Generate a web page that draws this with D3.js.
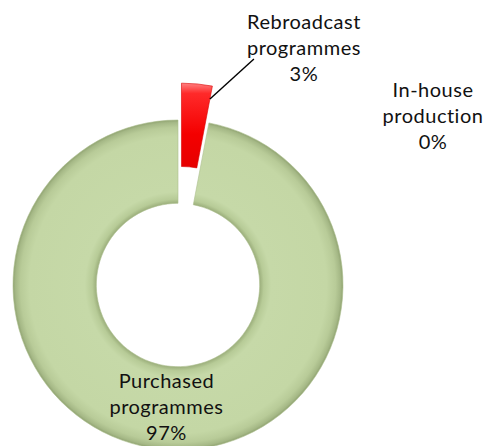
<!DOCTYPE html>
<html>
<head>
<meta charset="utf-8">
<script src="https://cdnjs.cloudflare.com/ajax/libs/d3/7.8.5/d3.min.js"></script>
<style>
  html, body { margin: 0; padding: 0; background: #fff; }
  #chart text { font-family: Lato, 'Open Sans', sans-serif; font-size: 20px; fill: #111; letter-spacing: 0.5px; }
</style>
</head>
<body>
<div id="chart"></div>
<script>
/*** chart data */
var categories = ['In-house production', 'Rebroadcast programmes', 'Purchased programmes'];
var labelLines = [['In-house', 'production'], ['Rebroadcast', 'programmes'], ['Purchased', 'programmes']];
var shares = [0, 3, 97];

/*** to define the style */
var template = {
  width: 486,
  height: 446,
  cx: 178,
  cy: 285,
  outer: 165,
  hole: 0.495,
  explode: 37,
  lineHeight: 26
};

(function(data) {
  var $graph = d3
    .select('#chart')
    .append('svg')
    .attr('width', data.width)
    .attr('height', data.height);

  var defs = $graph.append('defs');

  // ring shading: darker rims, light middle band (gradient lives in the g's space)
  var green = defs
    .append('radialGradient')
    .attr('id', 'greenFill')
    .attr('gradientUnits', 'userSpaceOnUse')
    .attr('cx', 0)
    .attr('cy', 0)
    .attr('r', data.outer);
  [
    [data.hole, '#9bae7b'],
    [data.hole + 0.025, '#b7cb97'],
    [data.hole + 0.07, '#c6d9a8'],
    [0.9, '#c4d7a5'],
    [0.955, '#b8cb98'],
    [0.985, '#a5b886'],
    [1, '#90a371']
  ].forEach(s => {
    green.append('stop').attr('offset', s[0]).attr('stop-color', s[1]);
  });

  var red = defs
    .append('linearGradient')
    .attr('id', 'redFill')
    .attr('x1', 0)
    .attr('y1', 0)
    .attr('x2', 0)
    .attr('y2', 1);
  [[0, '#ff8080'], [0.12, '#ff2a2a'], [0.6, '#f40000'], [1, '#e60000']].forEach(s => {
    red.append('stop').attr('offset', s[0]).attr('stop-color', s[1]);
  });
  var fills = ['#4f81bd', 'url(#redFill)', 'url(#greenFill)'];

  var pie = d3
    .pie()
    .sort(null)
    .value(d => d);
  var arcs = pie(shares);

  var inner = data.outer * data.hole;
  var arc = d3
    .arc()
    .innerRadius(inner)
    .outerRadius(data.outer);

  // exploded offset for the small slice
  function offset(d, i) {
    if (i !== 1) return [0, 0];
    var a = (d.startAngle + d.endAngle) / 2;
    return [data.explode * Math.sin(a), -data.explode * Math.cos(a)];
  }

  var g = $graph
    .append('g')
    .attr('transform', 'translate(' + data.cx + ',' + data.cy + ')');

  g.selectAll('path')
    .data(arcs.filter(d => d.value > 0))
    .enter()
    .append('path')
    .attr('d', arc)
    .attr('transform', d => {
      var o = offset(d, d.index);
      return 'translate(' + o[0] + ',' + o[1] + ')';
    })
    .attr('fill', d => fills[d.index])
    .attr('stroke', d => (d.index === 1 ? '#d80000' : '#adc08f'))
    .attr('stroke-width', 0.6);

  // leader line for Rebroadcast
  var rb = arcs[1];
  var o1 = offset(rb, 1);
  var r0 = data.outer * 0.92;
  var p0 = [o1[0] + r0 * Math.sin(rb.endAngle), o1[1] - r0 * Math.cos(rb.endAngle)];
  var p1 = [p0[0] + 44, p0[1] - 40];
  g.append('line')
    .attr('x1', p0[0])
    .attr('y1', p0[1])
    .attr('x2', p1[0])
    .attr('y2', p1[1])
    .attr('stroke', '#000')
    .attr('stroke-width', 1.4);

  // label anchors (centre of middle line)
  var purchasedC = arc.centroid(arcs[2]);
  var anchors = [
    [255, -169],
    [p1[0] + 50, p1[1] - 11],
    [purchasedC[0], purchasedC[1] - 1]
  ];

  var labels = g
    .selectAll('g.label')
    .data(arcs)
    .enter()
    .append('g')
    .attr('class', 'label')
    .attr('transform', (d, i) => 'translate(' + anchors[i][0] + ',' + anchors[i][1] + ')');

  labels.each(function(d, i) {
    var lines = labelLines[i].concat([d3.format('.0f')(shares[i]) + '%']);
    d3.select(this)
      .selectAll('text')
      .data(lines)
      .enter()
      .append('text')
      .attr('text-anchor', 'middle')
      .attr('x', 0)
      .attr('y', (t, j) => (j - 1) * data.lineHeight + 7)
      .text(t => t);
  });
})(template);
</script>
</body>
</html>
